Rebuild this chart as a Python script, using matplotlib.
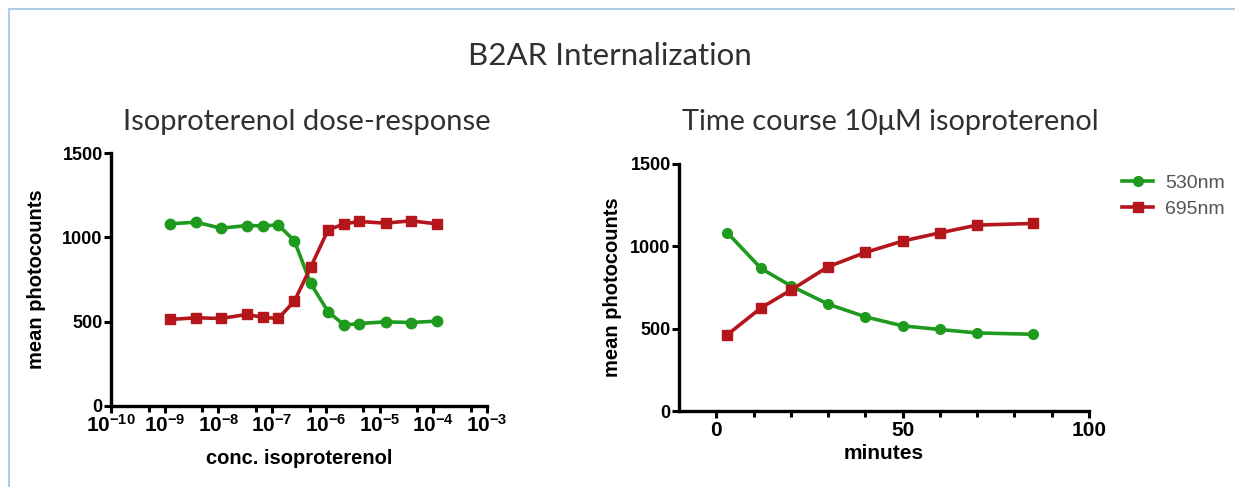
import math
import matplotlib
matplotlib.use('Agg')
import matplotlib.pyplot as plt
from matplotlib.patches import Rectangle
from matplotlib.ticker import FixedLocator, FuncFormatter

plt.rcParams['font.family'] = ['Liberation Sans', 'DejaVu Sans']
plt.rcParams['mathtext.fontset'] = 'custom'
plt.rcParams['mathtext.rm'] = 'Liberation Sans:bold'
plt.rcParams['mathtext.it'] = 'Liberation Sans:bold'
plt.rcParams['mathtext.bf'] = 'Liberation Sans:bold'

# Dose-response data (conc. in M)
conc = [1.25e-9, 3.8e-9, 1.12e-8, 3.4e-8, 6.8e-8, 1.3e-7, 2.6e-7,
        5.2e-7, 1.1e-6, 2.2e-6, 4.2e-6, 1.3e-5, 3.8e-5, 1.15e-4]
dose_530 = [1080, 1090, 1054, 1070, 1068, 1074, 979, 727, 559, 480, 489, 499, 495, 503]
dose_695 = [513, 523, 519, 543, 525, 519, 622, 822, 1044, 1080, 1094, 1084, 1098, 1080]

# Time course data (minutes)
minutes = [3, 12, 20, 30, 40, 50, 60, 70, 85]
time_530 = [1082, 866, 760, 649, 572, 517, 495, 474, 466]
time_695 = [464, 626, 734, 876, 963, 1032, 1082, 1129, 1139]

green = '#1e9a1e'
red = '#b4161b'
title_color = '#303030'
title_font = ['Lato', 'DejaVu Sans']

fig = plt.figure(figsize=(12.35, 4.87), dpi=100)

# light blue frame
fig.patches.append(Rectangle((9 / 1235, -0.1), 1.1, (487 - 9) / 487 + 0.1,
                             transform=fig.transFigure, fill=False,
                             edgecolor='#b0cbe6', linewidth=1.5))

fig.text(610 / 1235, 1 - 56 / 487, 'B2AR Internalization', ha='center', va='center',
         fontsize=22.5, family=title_font, color=title_color)
fig.text(307 / 1235, 1 - 122 / 487, 'Isoproterenol dose-response', ha='center', va='center',
         fontsize=21, family=title_font, color=title_color)
fig.text(890 / 1235, 1 - 122 / 487, 'Time course 10\u03bcM isoproterenol', ha='center', va='center',
         fontsize=20.8, family=title_font, color=title_color)

ax1 = fig.add_axes([111 / 1235, (487 - 406) / 487, 376 / 1235, 253 / 487])
ax2 = fig.add_axes([679 / 1235, (487 - 411) / 487, 410 / 1235, 247 / 487])


def style(ax):
    for s in ['top', 'right']:
        ax.spines[s].set_visible(False)
    for s in ['left', 'bottom']:
        ax.spines[s].set_linewidth(2.4)
    ax.tick_params(which='both', direction='out', width=2.2, length=5, labelsize=13, pad=1)
    ax.tick_params(which='minor', length=4)
    for lab in ax.get_xticklabels() + ax.get_yticklabels():
        lab.set_fontweight('bold')
    ax.set_ylim(0, 1500)
    ax.set_yticks([0, 500, 1000, 1500])


# dose-response
ax1.plot(conc, dose_530, color=green, marker='o', markersize=7.5, linewidth=2.6, label='530nm')
ax1.plot(conc, dose_695, color=red, marker='s', markersize=7, linewidth=2.6, label='695nm')
ax1.set_xscale('log')
ax1.set_xlim(1e-10, 1e-3)
ax1.xaxis.set_major_locator(FixedLocator([10.0 ** e for e in range(-10, -2)]))
ax1.xaxis.set_minor_locator(FixedLocator([5 * 10.0 ** e for e in range(-11, -3)]))
ax1.xaxis.set_major_formatter(FuncFormatter(lambda v, p: r'$10^{%d}$' % round(math.log10(v))))
ax1.xaxis.set_minor_formatter(FuncFormatter(lambda v, p: ''))
style(ax1)
ax1.tick_params(axis='x', labelsize=15)
ax1.set_ylabel('mean photocounts', fontsize=14.5, fontweight='bold', labelpad=12)
ax1.set_xlabel('conc. isoproterenol', fontsize=14.5, fontweight='bold', labelpad=9)

# time course
ax2.plot(minutes, time_530, color=green, marker='o', markersize=7, linewidth=2.6, label='530nm')
ax2.plot(minutes, time_695, color=red, marker='s', markersize=6.5, linewidth=2.6, label='695nm')
ax2.set_xlim(-10, 100)
ax2.set_xticks([0, 50, 100])
ax2.set_xticks(range(10, 100, 10), minor=True)
style(ax2)
ax2.tick_params(axis='x', labelsize=15, pad=2)
ax2.set_ylabel('mean photocounts', fontsize=14.5, fontweight='bold', labelpad=6)
ax2.set_xlabel('minutes', fontsize=15, fontweight='bold', labelpad=3)

handles, labels = ax2.get_legend_handles_labels()
leg = fig.legend(handles, labels, loc='center left', bbox_to_anchor=(1122 / 1235, 1 - 196 / 487),
                 frameon=False, fontsize=14, handlelength=1.6, labelspacing=0.42,
                 handletextpad=0.6, borderaxespad=0, borderpad=0)
for t in leg.get_texts():
    t.set_color('#555555')

fig.savefig('out.png', dpi=100)
